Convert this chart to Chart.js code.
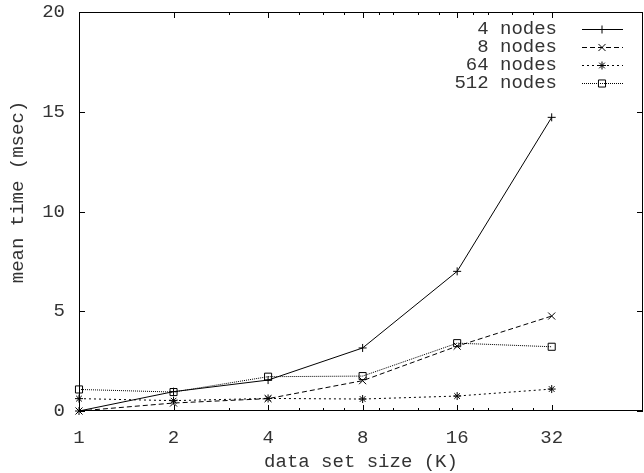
<!DOCTYPE html>
<html>
<head>
<meta charset="utf-8">
<script src="https://cdn.jsdelivr.net/npm/chart.js@4/dist/chart.umd.min.js"></script>
<style>
  html, body { margin: 0; padding: 0; background: #fff; }
  canvas { display: block; }
</style>
</head>
<body>
<canvas id="chart" width="644" height="473"></canvas>
<script>
// data set size (K) vs mean time (msec), one series per node count
const sizes = [1, 2, 4, 8, 16, 32];
const nodes4 = [0.0, 0.97, 1.55, 3.16, 7.0, 14.72];
const nodes8 = [0.0, 0.4, 0.62, 1.52, 3.25, 4.76];
const nodes64 = [0.62, 0.52, 0.63, 0.6, 0.75, 1.1];
const nodes512 = [1.08, 0.95, 1.72, 1.75, 3.4, 3.22];

const seriesNames = ["4 nodes", "8 nodes", "64 nodes", "512 nodes"];
const xMajorTicks = [1, 2, 4, 8, 16, 32];
const xMinorTicks = [3, 5, 6, 7, 9, 10, 12, 14, 18, 20, 24, 28];
const yTicks = [0, 5, 10, 15, 20];

const FONT = { family: "'Liberation Mono', 'DejaVu Sans Mono', monospace", size: 19 };
const INK = "#000";
const TEXT = "#333";

const toPoints = (vals) => sizes.map((x, i) => ({ x, y: vals[i] }));

function series(label, vals, dash, style, radius) {
  return {
    label,
    data: toPoints(vals),
    borderColor: INK,
    borderWidth: 1,
    borderDash: dash,
    pointStyle: style,
    pointRadius: radius,
    pointBorderColor: INK,
    pointBackgroundColor: "rgba(0,0,0,0)",
    pointBorderWidth: 1,
    tension: 0,
    fill: false,
    clip: false,
  };
}

// frame, inward ticks, y title and the gnuplot-style legend
const gnuplotFrame = {
  id: "gnuplotFrame",
  beforeDatasetsDraw(chart) {
    const { ctx, chartArea: a, scales } = chart;
    ctx.save();
    ctx.strokeStyle = INK;
    ctx.lineWidth = 1;
    ctx.strokeRect(a.left + 0.5, a.top + 0.5, a.right - a.left - 1, a.bottom - a.top - 1);
    ctx.beginPath();
    const tick = (x, len) => {
      const px = Math.round(x) + 0.5;
      ctx.moveTo(px, a.bottom);
      ctx.lineTo(px, a.bottom - len);
      ctx.moveTo(px, a.top);
      ctx.lineTo(px, a.top + len);
    };
    xMajorTicks.forEach((v) => tick(scales.x.getPixelForValue(v), 6));
    xMinorTicks.forEach((v) => tick(scales.x.getPixelForValue(v), 3));
    yTicks.forEach((v) => {
      const py = Math.round(scales.y.getPixelForValue(v)) + 0.5;
      ctx.moveTo(a.left, py);
      ctx.lineTo(a.left + 6, py);
      ctx.moveTo(a.right, py);
      ctx.lineTo(a.right - 6, py);
    });
    ctx.stroke();

    // y title
    ctx.fillStyle = TEXT;
    ctx.font = `${FONT.size}px ${FONT.family}`;
    ctx.textAlign = "center";
    ctx.textBaseline = "middle";
    ctx.translate(18, 192);
    ctx.rotate(-Math.PI / 2);
    ctx.fillText("mean time (msec)", 0, 0);
    ctx.restore();
  },
  afterDatasetsDraw(chart) {
    const { ctx } = chart;
    ctx.save();
    ctx.font = `${FONT.size}px ${FONT.family}`;
    ctx.textAlign = "right";
    ctx.textBaseline = "middle";
    chart.data.datasets.forEach((ds, i) => {
      const y = 29 + i * 18;
      ctx.fillStyle = TEXT;
      ctx.fillText(ds.label, 557, y);
      ctx.strokeStyle = ds.borderColor;
      ctx.lineWidth = ds.borderWidth;
      ctx.setLineDash(ds.borderDash);
      ctx.beginPath();
      ctx.moveTo(582, Math.round(y) + 0.5);
      ctx.lineTo(623, Math.round(y) + 0.5);
      ctx.stroke();
      ctx.setLineDash([]);
      ctx.fillStyle = ds.pointBackgroundColor;
      Chart.helpers.drawPoint(ctx, {
        pointStyle: ds.pointStyle,
        radius: ds.pointRadius,
        rotation: 0,
        borderWidth: 1,
      }, 602, Math.round(y) + 0.5);
    });
    ctx.restore();
  },
};

new Chart(document.getElementById("chart"), {
  type: "line",
  data: {
    datasets: [
      series(seriesNames[0], nodes4, [], "cross", 4),
      series(seriesNames[1], nodes8, [5, 3], "crossRot", 5),
      series(seriesNames[2], nodes64, [2, 3], "star", 4),
      series(seriesNames[3], nodes512, [1, 1], "rect", 5),
    ],
  },
  options: {
    responsive: false,
    animation: false,
    devicePixelRatio: 1,
    layout: { autoPadding: false, padding: { top: 12, right: 1, left: 0, bottom: 0 } },
    plugins: {
      legend: { display: false },
      tooltip: { enabled: false },
    },
    scales: {
      x: {
        type: "logarithmic",
        min: 1,
        max: 62.5,
        grid: { display: false, drawTicks: false },
        border: { display: false },
        afterBuildTicks: (s) => { s.ticks = xMajorTicks.map((v) => ({ value: v })); },
        afterFit: (s) => { s.height = 62; s.paddingLeft = 0; s.paddingRight = 0; },
        ticks: {
          autoSkip: false,
          maxRotation: 0,
          padding: 16,
          color: TEXT,
          font: FONT,
          callback: (v) => String(v),
        },
        title: {
          display: true,
          text: "data set size (K)",
          color: TEXT,
          font: FONT,
          padding: { top: 0, bottom: 0 },
        },
      },
      y: {
        type: "linear",
        min: 0,
        max: 20,
        grid: { display: false, drawTicks: false },
        border: { display: false },
        afterBuildTicks: (s) => { s.ticks = yTicks.map((v) => ({ value: v })); },
        afterFit: (s) => { s.width = 79; s.paddingTop = 0; s.paddingBottom = 0; },
        ticks: {
          padding: 14,
          color: TEXT,
          font: FONT,
        },
      },
    },
  },
  plugins: [gnuplotFrame],
});
</script>
</body>
</html>
